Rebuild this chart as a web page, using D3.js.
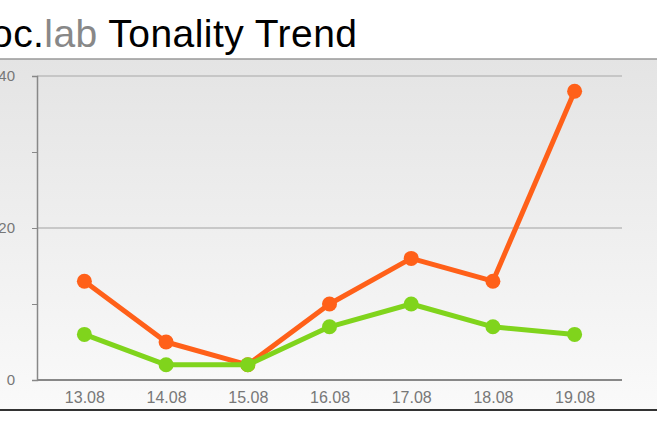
<!DOCTYPE html><html><head><script src="https://d3js.org/d3.v7.min.js"></script>
<style>body{margin:0;background:#fff}</style></head><body><script>
const categories=["13.08","14.08","15.08","16.08","17.08","18.08","19.08"];
const orangeValues=[13,5,2,10,16,13,38];
const greenValues=[6,2,2,7,10,7,6];
const yTickLabels=[0,20,40];
const W=657,H=438;
const svg=d3.select("body").append("svg").attr("width",W).attr("height",H);
const defs=svg.append("defs");
const g=defs.append("linearGradient").attr("id","bg").attr("x1",0).attr("y1",0).attr("x2",0).attr("y2",1);
g.append("stop").attr("offset","0").attr("stop-color","#e4e4e4");
g.append("stop").attr("offset","1").attr("stop-color","#fafafa");
svg.append("rect").attr("x",0).attr("y",59).attr("width",W).attr("height",351).attr("fill","url(#bg)");
svg.append("line").attr("x1",0).attr("x2",W).attr("y1",59).attr("y2",59).attr("stroke","#999").attr("stroke-width",1.5);
svg.append("line").attr("x1",0).attr("x2",W).attr("y1",410).attr("y2",410).attr("stroke","#333").attr("stroke-width",2);
const t=svg.append("text").attr("x",-9).attr("y",47).attr("font-family","Liberation Sans, Arial").attr("font-size",39).attr("textLength",366).attr("fill","#000");
t.append("tspan").text("oc.");t.append("tspan").attr("fill","#888").text("lab");t.append("tspan").text(" Tonality Trend");
const x=d3.scalePoint().domain(categories).range([37,622]).padding(0.58);
const y=d3.scaleLinear().domain([0,40]).range([380,76]);
yTickLabels.filter(v=>v>0).forEach(v=>svg.append("line").attr("x1",37).attr("x2",622).attr("y1",y(v)).attr("y2",y(v)).attr("stroke","#bbb").attr("stroke-width",1.5));
const ya=svg.append("g").attr("transform","translate(37,0)").call(d3.axisLeft(y).tickValues([0,10,20,30,40]).tickSize(5).tickFormat(d=>yTickLabels.includes(d)?d:""));
ya.select(".domain").attr("stroke","#888").attr("stroke-width",1.5);
ya.selectAll(".tick line").attr("stroke","#888");
ya.selectAll("text").attr("x",-22).attr("font-family","Liberation Sans, Arial").attr("font-size",15).attr("fill","#777");
svg.append("line").attr("x1",37).attr("x2",622).attr("y1",y(0)).attr("y2",y(0)).attr("stroke","#888").attr("stroke-width",2);
const xa=svg.append("g").attr("transform","translate(0,380)").call(d3.axisBottom(x).tickSize(0).tickPadding(12));
xa.select(".domain").remove();
xa.selectAll("text").attr("font-family","Liberation Sans, Arial").attr("font-size",16).attr("fill","#777");
function series(vals,color){
 svg.append("path").datum(vals).attr("fill","none").attr("stroke",color).attr("stroke-width",5).attr("stroke-linejoin","round")
  .attr("d",d3.line().x((d,i)=>x(categories[i])).y(d=>y(d)));
 svg.selectAll(null).data(vals).enter().append("circle").attr("cx",(d,i)=>x(categories[i])).attr("cy",d=>y(d)).attr("r",7.5).attr("fill",color);
}
series(orangeValues,"#ff6019");
series(greenValues,"#80d41c");
</script></body></html>
